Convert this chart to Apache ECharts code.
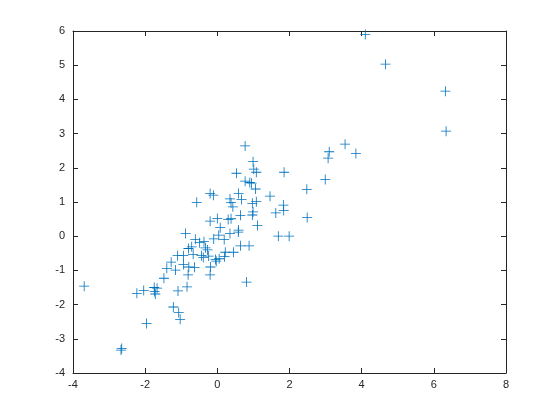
<!DOCTYPE html>
<html><head><meta charset="utf-8">
<script src="https://cdn.jsdelivr.net/npm/echarts@6/dist/echarts.min.js"></script>
<style>html,body{margin:0;padding:0;background:#fff}#c{width:560px;height:420px}</style>
</head><body><div id="c"></div>
<script>
var xValues = [4.10,4.66,6.32,6.34,3.54,3.84,3.10,3.07,2.99,2.48,2.49,1.85,1.46,1.83,1.62,1.84,1.69,1.99,
0.77,0.99,1.01,1.08,0.53,0.77,0.90,0.95,1.06,0.59,0.67,0.35,0.38,0.43,1.08,0.97,0.99,0.97,0.64,1.11,
0.30,0.38,0.00,-0.20,0.08,0.59,0.58,0.35,0.04,-0.10,0.19,0.64,0.88,0.45,0.22,0.20,0.05,-0.05,-0.03,
-0.20,-0.11,-0.57,-0.88,-0.61,-0.49,-0.37,-0.33,-0.27,-0.71,-0.80,-0.67,-0.44,-0.39,-0.24,-1.10,-0.94,
-1.28,-1.40,-1.16,-0.94,-0.79,-0.63,-0.81,-0.19,-0.20,-1.48,-0.84,0.81,-1.09,-1.75,-1.67,-1.74,-1.72,
-2.04,-2.23,-3.69,-1.22,-1.07,-1.03,-1.96,-2.65,-2.67];
var yValues = [5.90,5.03,4.24,3.07,2.69,2.42,2.47,2.28,1.66,1.37,0.55,1.87,1.17,0.91,0.68,0.75,0.00,0.00,
2.64,2.18,1.96,1.87,1.84,1.61,1.57,1.55,1.38,1.25,1.07,1.09,0.98,0.86,1.01,0.96,0.71,0.62,0.61,0.31,
0.49,0.51,0.52,0.44,0.25,0.18,0.12,0.08,0.03,-0.08,-0.10,-0.28,-0.28,-0.47,-0.47,-0.60,-0.66,-0.68,-0.73,
1.25,1.20,0.99,0.08,-0.09,-0.19,-0.16,-0.34,-0.40,-0.31,-0.36,-0.53,-0.57,-0.62,-0.58,-0.57,-0.57,
-0.76,-0.94,-0.99,-0.83,-0.90,-0.91,-1.13,-0.90,-1.13,-1.23,-1.48,-1.34,-1.60,-1.50,-1.52,-1.62,-1.69,
-1.59,-1.67,-1.46,-2.07,-2.23,-2.43,-2.55,-3.28,-3.33];
var xTicks = [-4,-2,0,2,4,6,8];
var yTicks = [-4,-3,-2,-1,0,1,2,3,4,5,6];

var pts = xValues.map(function(v,i){return [v,yValues[i]];});
var axisCol = '#262626';
function mkX(pos, show){
  return {type:'value', position:pos, min:xTicks[0], max:xTicks[xTicks.length-1], interval:2,
    axisLine:{show:true, onZero:false, lineStyle:{color:axisCol,width:1}},
    axisTick:{show:true, inside:true, length:5, lineStyle:{color:axisCol}},
    axisLabel:{show:show, color:axisCol, fontFamily:'Liberation Sans, Arial, sans-serif', fontSize:11, margin:6},
    splitLine:{show:false}};
}
function mkY(pos, show){
  return {type:'value', position:pos, min:yTicks[0], max:yTicks[yTicks.length-1], interval:1,
    axisLine:{show:true, onZero:false, lineStyle:{color:axisCol,width:1}},
    axisTick:{show:true, inside:true, length:5, lineStyle:{color:axisCol}},
    axisLabel:{show:show, color:axisCol, fontFamily:'Liberation Sans, Arial, sans-serif', fontSize:11, margin:8},
    splitLine:{show:false}};
}
var chart = echarts.init(document.getElementById('c'), null, {renderer:'canvas'});
chart.setOption({
  animation:false,
  backgroundColor:'#fff',
  grid:{left:73, right:54, top:31, bottom:47, containLabel:false},
  xAxis:[mkX('bottom',true), mkX('top',false)],
  yAxis:[mkY('left',true), mkY('right',false)],
  series:[{type:'scatter', xAxisIndex:0, yAxisIndex:0, data:pts,
    symbol:'path://M4.6,0H5.4V4.6H10V5.4H5.4V10H4.6V5.4H0V4.6H4.6Z',
    symbolSize:10, itemStyle:{color:'#0072BD', opacity:1}}]
});
</script></body></html>
